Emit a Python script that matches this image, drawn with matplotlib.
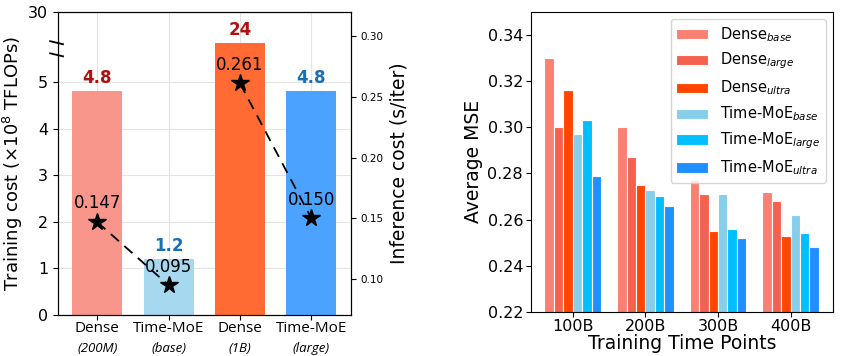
import numpy as np
import matplotlib.pyplot as plt
from matplotlib.transforms import blended_transform_factory

# left chart: training / inference cost
models = ["Dense", "Time-MoE", "Dense", "Time-MoE"]
model_sizes = ["(200M)", "(base)", "(1B)", "(large)"]
train_cost = [4.8, 1.2, 24, 4.8]
infer_cost = [0.147, 0.095, 0.261, 0.150]
bar_colors = ["#F8968C", "#A6D9F0", "#FF6B33", "#4BA3FF"]
label_colors = ["#B01010", "#1A6FB5", "#B01010", "#1A6FB5"]

# right chart: average MSE over training points
points = ["100B", "200B", "300B", "400B"]
series = ["Dense$_{base}$", "Dense$_{large}$", "Dense$_{ultra}$",
          "Time-MoE$_{base}$", "Time-MoE$_{large}$", "Time-MoE$_{ultra}$"]
mse = [
    [0.330, 0.300, 0.277, 0.272],
    [0.300, 0.287, 0.271, 0.268],
    [0.316, 0.275, 0.255, 0.253],
    [0.297, 0.273, 0.271, 0.262],
    [0.303, 0.270, 0.256, 0.254],
    [0.279, 0.266, 0.252, 0.248],
]
mse_colors = ["#FA8072", "#F4614D", "#FF4500", "#87CEEB", "#00BFFF", "#1E90FF"]

# broken y scale: 0-5 linear, compressed above
brk_in = [0, 5, 24, 30]
brk_out = [0, 5, 5.83, 6.5]
fwd = lambda v: np.interp(v, brk_in, brk_out)
inv = lambda v: np.interp(v, brk_out, brk_in)

fig = plt.figure(figsize=(8.41, 3.56), dpi=100)
ax = fig.add_axes([0.069, 0.115, 0.348, 0.851])
ax.set_yscale("function", functions=(fwd, inv))

x = np.arange(len(models))
ax.bar(x, train_cost, width=0.7, color=bar_colors, zorder=2)
ax.set_axisbelow(True)
ax.grid(True, color="#e3e3e3", linewidth=0.8)
ax.set_ylim(0, 30)
ax.set_xlim(-0.55, 3.55)
ax.set_yticks([0, 1, 2, 3, 4, 5, 30])
ax.tick_params(axis="y", labelsize=11.5)
ax.set_xticks(x)
ax.set_xticklabels(models, fontsize=11, family="Open Sans")
ax.tick_params(axis="x", pad=1)
ax.set_ylabel("Training cost (×10$^8$ TFLOPs)", fontsize=13, labelpad=2)

for xi, v, c in zip(x, train_cost, label_colors):
    ax.annotate(f"{v:g}", (xi, v), xytext=(0, 3), textcoords="offset points",
                ha="center", va="bottom", fontsize=12, fontweight="bold", color=c)

trans = blended_transform_factory(ax.transData, ax.transAxes)
for xi, s in zip(x, model_sizes):
    ax.text(xi, -0.088, s, transform=trans, ha="center", va="top",
            fontsize=9.5, style="italic", family="Open Sans")

# break marks on the left spine
for yb in (0.898, 0.858):
    ax.plot([-0.027, 0.017], [yb + 0.006, yb - 0.004], transform=ax.transAxes,
            color="black", lw=1.3, clip_on=False, zorder=5)

ax2 = ax.twinx()
ax2.plot(x[:2], infer_cost[:2], "k--", dashes=(6, 4), lw=1.3)
ax2.plot(x[2:], infer_cost[2:], "k--", dashes=(6, 4), lw=1.3)
ax2.plot(x, infer_cost, "k*", markersize=13, linestyle="none")
for xi, v in zip(x, infer_cost):
    ax2.annotate(f"{v:.3f}", (xi, v), xytext=(0, 7), textcoords="offset points",
                 ha="center", va="bottom", fontsize=12)
ax2.set_ylim(0.0705, 0.3197)
ax2.set_yticks([0.10, 0.15, 0.20, 0.25, 0.30])
ax2.tick_params(axis="y", labelsize=7.5)
ax2.set_ylabel("Inference cost (s/iter)", fontsize=13.5)

# right chart
bx = fig.add_axes([0.631, 0.124, 0.360, 0.843])
w = 0.13
xp = np.arange(len(points))
for j, (name, vals, c) in enumerate(zip(series, mse, mse_colors)):
    bx.bar(xp + (j - 2.5) * w, vals, width=w, color=c, edgecolor="white",
           linewidth=0.8, label=name)
bx.set_ylim(0.22, 0.35)
bx.set_xlim(-0.58, 3.59)
bx.set_yticks([0.22, 0.24, 0.26, 0.28, 0.30, 0.32, 0.34])
bx.set_xticks(xp)
bx.set_xticklabels(points)
bx.tick_params(labelsize=11.5, pad=2)
bx.set_ylabel("Average MSE", fontsize=13.5, labelpad=3)
bx.set_xlabel("Training Time Points", fontsize=13.5, labelpad=0)
bx.legend(loc="upper right", fontsize=10.5, handlelength=2.2)

fig.savefig("out.png", dpi=100)
